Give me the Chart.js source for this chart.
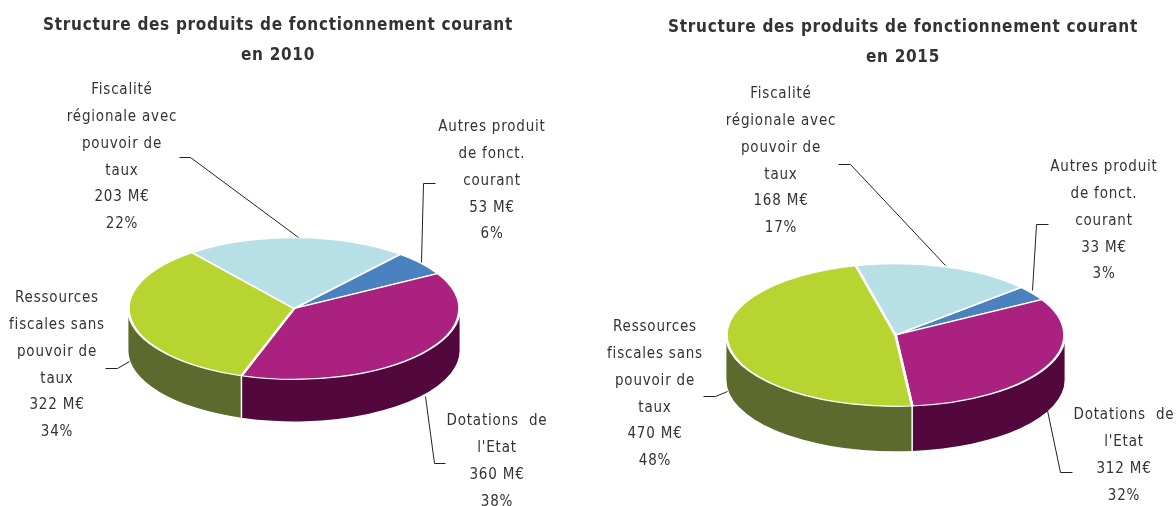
<!DOCTYPE html>
<html><head><meta charset="utf-8">
<script src="https://cdn.jsdelivr.net/npm/chart.js@4"></script>
<style>
html,body{margin:0;padding:0;background:#fff;width:1176px;height:506px;overflow:hidden}
canvas{position:absolute;top:0}
#box1{position:absolute;left:0;top:0;width:556px;height:506px}
#box2{position:absolute;left:600px;top:0;width:606px;height:506px}
</style></head><body>
<div id="box1"><canvas id="c1"></canvas></div>
<div id="box2"><canvas id="c2"></canvas></div>
<script>
// ---- data
const categories = ["Autres produit de fonct. courant","Dotations de l'Etat","Ressources fiscales sans pouvoir de taux","Fiscalité régionale avec pouvoir de taux"];
const categoryLines = [["Autres produit","de fonct.","courant"],["Dotations  de","l'Etat"],["Ressources","fiscales sans","pouvoir de","taux"],["Fiscalité","régionale avec","pouvoir de","taux"]];
const values2010 = [53,360,322,203];
const values2015 = [33,312,470,168];
const percent2010 = [6,38,34,22];
const percent2015 = [3,32,48,17];
const title2010 = ["Structure des produits de fonctionnement courant","en 2010"];
const title2015 = ["Structure des produits de fonctionnement courant","en 2015"];
// ---- style
const topColors = ["#4A81BF","#AB2180","#B7D431","#B7DFE6"];
const sideColors = ["#2F5585","#52073D","#5C6B2D","#7FA3AA"];
const TEXT = "#333333";
const FONT = '"DejaVu Sans Condensed","DejaVu Sans"';

function pie3d(id, opts){
  const plugin = {
    id:'pie3d',
    afterLayout(chart){
      // place the pie's box inside the canvas; the title stays centred on the canvas
      chart.chartArea.left = opts.pieLeft;
      chart.chartArea.right = opts.pieRight;
      chart.chartArea.width = opts.pieRight-opts.pieLeft;
    },
    beforeDraw(chart){
      if('letterSpacing' in chart.ctx) chart.ctx.letterSpacing=opts.titleSpacing;
    },
    beforeDatasetsDraw(chart){
      const ctx = chart.ctx, arcs = chart.getDatasetMeta(0).data;
      const a0 = arcs[0], cx=a0.x, cy=a0.y, rx=a0.outerRadius, ry=rx*opts.squash, d=opts.depth;
      arcs.forEach((arc,i)=>{
        for(let k=-1;k<=2;k++){
          const a=Math.max(arc.startAngle,2*Math.PI*k), b=Math.min(arc.endAngle,2*Math.PI*k+Math.PI);
          if(b<=a) continue;
          ctx.save();
          ctx.beginPath();
          ctx.ellipse(cx,cy,rx,ry,0,a,b);
          ctx.ellipse(cx,cy+d,rx,ry,0,b,a,true);
          ctx.closePath();
          ctx.fillStyle=sideColors[i];
          ctx.fill();
          ctx.restore();
        }
      });
      // white seams on the wall
      arcs.forEach(arc=>{
        const s=Math.sin(arc.endAngle);
        if(s>0.02){
          const x=cx+rx*Math.cos(arc.endAngle), y=cy+ry*s;
          ctx.save();ctx.strokeStyle="#fff";ctx.lineWidth=1.5;
          ctx.beginPath();ctx.moveTo(x,y);ctx.lineTo(x,y+d);ctx.stroke();ctx.restore();
        }
      });
      ctx.save();
      ctx.translate(cx,cy);ctx.scale(1,opts.squash);ctx.translate(-cx,-cy);
    },
    afterDatasetsDraw(chart){
      const ctx=chart.ctx;
      ctx.restore();
      ctx.save();
      // leader lines
      ctx.strokeStyle="#222";ctx.lineWidth=1;
      opts.leaders.forEach(pts=>{
        ctx.beginPath();
        pts.forEach((p,i)=> i?ctx.lineTo(p[0]+.5,p[1]+.5):ctx.moveTo(p[0]+.5,p[1]+.5));
        ctx.stroke();
      });
      // labels
      ctx.fillStyle=TEXT;ctx.textAlign="center";ctx.textBaseline="middle";
      ctx.font=opts.labelFont;
      if('letterSpacing' in ctx) ctx.letterSpacing=opts.labelSpacing;
      opts.values.forEach((v,i)=>{
        const lines=[...categoryLines[i],v+" M€",opts.percent[i]+"%"];
        const p=opts.labelPos[i];
        lines.forEach((t,j)=>ctx.fillText(t,p[0],p[1]+j*opts.labelStep));
      });
      ctx.restore();
    }
  };
  return new Chart(document.getElementById(id),{
    type:'pie',
    data:{labels:categories,datasets:[{data:opts.values,backgroundColor:topColors,borderColor:"#ffffff",borderWidth:2.8,clip:false}]},
    options:{
      responsive:true,maintainAspectRatio:false,animation:false,rotation:opts.rotation,
      layout:{padding:opts.padding},
      plugins:{
        legend:{display:false},tooltip:{enabled:false},
        title:{display:true,text:opts.title,color:TEXT,font:{family:FONT,size:17,weight:'bold',lineHeight:1.765},padding:opts.titlePadding}
      }
    },
    plugins:[plugin]
  });
}

pie3d('c1',{
  values:values2010,percent:percent2010,title:title2010,rotation:40,squash:0.428,depth:42,
  pieLeft:127,pieRight:461,titleSpacing:'0.7px',
  padding:{left:0,right:0,top:0,bottom:30.5},
  titlePadding:{top:11,bottom:70.5},
  labelFont:'15px '+FONT,labelSpacing:'0.8px',labelStep:26.9,
  labelPos:[[492,127],[497,421],[57,298],[122,90]],
  leaders:[[[435,183],[423,183],[421,262]],[[425,396],[434,463],[445,463]],[[105,368],[117,368],[129,361]],[[179,157],[190,157],[298,237]]]
});
pie3d('c2',{
  values:values2015,percent:percent2015,title:title2015,rotation:48,squash:0.422,depth:45,
  pieLeft:125,pieRight:466,titleSpacing:'0.7px',
  padding:{left:0,right:0,top:0,bottom:0.5},
  titlePadding:{top:13,bottom:91.5},
  labelFont:'15px '+FONT,labelSpacing:'0.8px',labelStep:26.9,
  labelPos:[[504,167],[524,415],[55,327],[181,94]],
  leaders:[[[448,224],[436,224],[432,290]],[[447,410],[460,472],[472,472]],[[103,396],[115,396],[127,391]],[[238,164],[250,164],[345,265]]]
});
</script></body></html>
